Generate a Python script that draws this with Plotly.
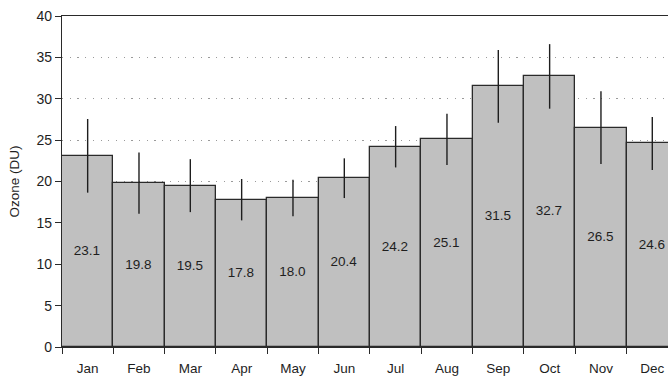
import plotly.graph_objects as go

months = ["Jan", "Feb", "Mar", "Apr", "May", "Jun",
          "Jul", "Aug", "Sep", "Oct", "Nov", "Dec"]
ozone = [23.1, 19.8, 19.5, 17.8, 18.0, 20.4,
         24.2, 25.1, 31.5, 32.7, 26.5, 24.6]
ozone_err = [4.45, 3.7, 3.2, 2.5, 2.2, 2.4,
             2.5, 3.1, 4.4, 3.9, 4.4, 3.2]
y_ticks = [0, 5, 10, 15, 20, 25, 30, 35, 40]

FONT = "Liberation Sans, Arial, sans-serif"
INK = "#1e1e1e"

fig = go.Figure(
    go.Bar(
        x=months,
        y=ozone,
        width=1.0,
        marker=dict(color="#c0c0c0", line=dict(color="#2a2a2a", width=1.3)),
        error_y=dict(type="data", array=ozone_err, visible=True,
                     color=INK, thickness=1.4, width=0),
        text=[f"{v:.1f}" for v in ozone],
        textposition="inside",
        insidetextanchor="middle",
        textangle=0,
        constraintext="none",
        textfont=dict(family=FONT, size=13.5, color=INK),
        hoverinfo="skip",
    )
)

fig.update_layout(
    width=668,
    height=377,
    margin=dict(l=62, r=0, t=16, b=30),
    paper_bgcolor="white",
    plot_bgcolor="white",
    showlegend=False,
    bargap=0,
    font=dict(family=FONT, size=13, color=INK),
)

fig.update_xaxes(
    type="category",
    range=[-0.5, 11.306],
    showgrid=False,
    showline=True,
    linecolor="#2a2a2a",
    linewidth=1.4,
    mirror=True,
    ticks="outside",
    tickson="boundaries",
    ticklen=6,
    tickcolor="#2a2a2a",
    tickwidth=1.2,
    ticklabelstandoff=9,
    tickfont=dict(family=FONT, size=13.5, color=INK),
    fixedrange=True,
)

fig.update_yaxes(
    range=[0, 40],
    tickvals=y_ticks,
    showgrid=True,
    gridcolor="#9a9a9a",
    gridwidth=1,
    griddash="1.2px,6.5px",
    zeroline=False,
    showline=True,
    linecolor="#2a2a2a",
    linewidth=1.4,
    ticks="outside",
    ticklen=6,
    tickcolor="#2a2a2a",
    tickwidth=1.2,
    tickfont=dict(family=FONT, size=14, color=INK),
    title=dict(text="Ozone (DU)", font=dict(family=FONT, size=13.5, color=INK), standoff=13),
    automargin=False,
    fixedrange=True,
)

fig.write_html("out.html")
